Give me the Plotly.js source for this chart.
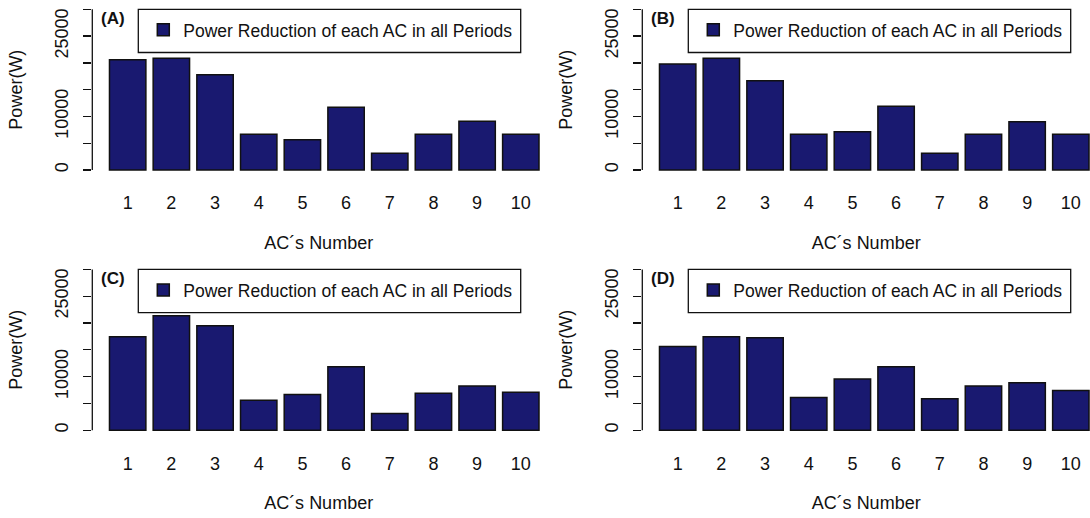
<!DOCTYPE html>
<html>
<head>
<meta charset="utf-8">
<script src="https://cdn.plot.ly/plotly-3.0.1.min.js"></script>
<style>html,body{margin:0;padding:0;background:#fff;}#chart{width:1090px;height:518px;}</style>
</head>
<body>
<div id="chart"></div>
<script>
// ---- data ----
const categories = ['1','2','3','4','5','6','7','8','9','10'];
const panelLabels = ['(A)','(B)','(C)','(D)'];
const seriesName = 'Power Reduction of each AC in all Periods';
const powerA = [20600, 20850, 17800, 6650, 5650, 11700, 3100, 6650, 9100, 6650];
const powerB = [19800, 20850, 16650, 6650, 7150, 11900, 3100, 6650, 9000, 6650];
const powerC = [17450, 21350, 19500, 5600, 6650, 11850, 3100, 6900, 8250, 7100];
const powerD = [15600, 17450, 17250, 6100, 9550, 11850, 5850, 8250, 8850, 7400];
const yTickVals = [0, 5000, 10000, 15000, 20000, 25000, 30000];
const yTickText = ['0', '', '10000', '', '', '25000', ''];
const xTitle = 'AC\u00b4s Number';
const yTitle = 'Power(W)';

// ---- layout helpers ----
const W = 1090, H = 518;
const FONT = 'Liberation Sans, Arial, sans-serif';
const BAR_COLOR = '#191970';
const px = v => v / W;
const py = v => (H - v) / H;

const series = [powerA, powerB, powerC, powerD];
// panel geometry in pixels: left of plot, right of plot, top, bottom
const panels = [
  {l: 92.3, r: 545, t: 2.9, b: 176.4, xr: 9.554},
  {l: 642.3, r: 1090, t: 2.9, b: 176.4, xr: 9.439},
  {l: 92.3, r: 545, t: 263.0, b: 436.6, xr: 9.554},
  {l: 642.3, r: 1090, t: 263.0, b: 436.6, xr: 9.439}
];

const traces = [];
const layout = {
  width: W, height: H,
  margin: {l: 0, r: 0, t: 0, b: 0},
  paper_bgcolor: '#fff', plot_bgcolor: '#fff',
  font: {family: FONT, size: 18, color: '#111'},
  bargap: 0.2 / 1.2,
  showlegend: true,
  shapes: [], annotations: []
};

panels.forEach((p, i) => {
  const n = i === 0 ? '' : String(i + 1);
  const xa = 'xaxis' + n, ya = 'yaxis' + n;
  const lg = 'legend' + n;
  traces.push({
    type: 'bar', x: categories, y: series[i],
    xaxis: 'x' + n, yaxis: 'y' + n,
    name: seriesName, legend: lg,
    marker: {color: BAR_COLOR, line: {color: '#111', width: 1.5}},
    hoverinfo: 'x+y'
  });
  layout[xa] = {
    domain: [px(p.l), px(p.r)], anchor: 'y' + n,
    type: 'category', range: [-0.81, p.xr],
    showline: false, showgrid: false, zeroline: false, ticks: '',
    ticklabelstandoff: 14,
    tickfont: {size: 18, color: '#111'},
    title: {text: xTitle, font: {size: 18, color: '#111'}, standoff: 23},
    fixedrange: true
  };
  layout[ya] = {
    domain: [py(p.b), py(p.t)], anchor: 'x' + n,
    range: [-1200, 31200],
    tickmode: 'array', tickvals: yTickVals, ticktext: yTickText,
    ticks: 'outside', ticklen: 8, tickwidth: 1.3, tickcolor: '#111',
    tickangle: -90, ticklabelstandoff: 8,
    showline: false, showgrid: false, zeroline: false,
    tickfont: {size: 18, color: '#111'},
    title: {text: yTitle, font: {size: 18, color: '#111'}, standoff: 24},
    fixedrange: true
  };
  // R-style axis line spanning first to last tick
  layout.shapes.push({
    type: 'line', xref: 'x' + n + ' domain', yref: 'y' + n,
    x0: 0, x1: 0, y0: yTickVals[0], y1: yTickVals[yTickVals.length - 1],
    line: {color: '#111', width: 1.3}
  });
  // legend box
  const boxT = p.t + 6.4, boxB = boxT + 43.2;
  const boxL = p.l + 46, boxR = p.l + 428.4;
  layout.shapes.push({
    type: 'rect', xref: 'paper', yref: 'paper',
    x0: px(boxL), x1: px(boxR), y0: py(boxB), y1: py(boxT),
    line: {color: '#111', width: 1.3}, fillcolor: 'rgba(255,255,255,0)'
  });
  layout[lg] = {
    x: px(boxL + 5), y: py((boxT + boxB) / 2 - 1),
    xanchor: 'left', yanchor: 'middle', xref: 'paper', yref: 'paper',
    bgcolor: 'rgba(0,0,0,0)', borderwidth: 0,
    font: {size: 17.5, color: '#111', family: FONT}
  };
  layout.annotations.push({
    text: '<b>' + panelLabels[i] + '</b>', showarrow: false,
    xref: 'paper', yref: 'paper',
    x: px(p.l + 20.7), y: py(p.t + 15.6),
    xanchor: 'center', yanchor: 'middle',
    font: {size: 17, color: '#111', family: FONT}
  });
});

Plotly.newPlot('chart', traces, layout, {displayModeBar: false, staticPlot: true});
</script>
</body>
</html>
